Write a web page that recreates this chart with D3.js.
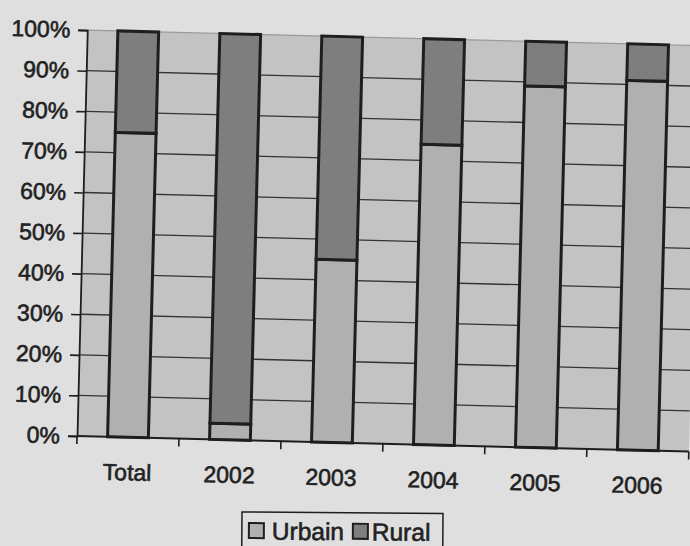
<!DOCTYPE html>
<html>
<head>
<meta charset="utf-8">
<script src="https://cdn.jsdelivr.net/npm/d3@7/dist/d3.min.js"></script>
<style>
  html, body { margin: 0; padding: 0; background: #dfdfdf; }
  svg { display: block; }
  text { font-family: "Liberation Sans", Arial, sans-serif; fill: #222; }
</style>
</head>
<body>
<svg id="chart" width="690" height="546"></svg>
<script>
// Share of urban vs rural, per year
const categories = ["Total", "2002", "2003", "2004", "2005", "2006"];
const urbain = [75, 4, 45, 74, 89, 91];
const rural  = [25, 96, 55, 26, 11, 9];
const seriesNames = ["Urbain", "Rural"];
const yTicks = [0, 10, 20, 30, 40, 50, 60, 70, 80, 90, 100];

const colors = { Urbain: "#b0b0b0", Rural: "#7e7e7e" };
const plotFill = "#c3c3c3";
const ink = "#1e1e1e";

const svg = d3.select("#chart");
const W = 612, H = 406;
const x0 = 77, y0 = 436;       // bottom-left corner of plot area
const tilt = 1.45;             // the sheet sits slightly askew

const rows = categories.map((c, i) => ({ cat: c, Urbain: urbain[i], Rural: rural[i] }));

const g = svg.append("g")
  .attr("transform", `rotate(${tilt}, ${x0}, ${y0}) translate(${x0}, ${y0 - H})`);

const x = d3.scaleBand().domain(categories).range([0, W]).paddingInner(0.6).paddingOuter(0.3);
const y = d3.scaleLinear().domain([0, 100]).range([H, 0]);

// plot area
g.append("rect").attr("x", 0).attr("y", 0).attr("width", W).attr("height", H).attr("fill", plotFill);

// gridlines
g.append("g").selectAll("line").data(yTicks.filter(t => t > 0)).join("line")
  .attr("x1", 0).attr("x2", W)
  .attr("y1", d => y(d)).attr("y2", d => y(d))
  .attr("stroke", d => d === 100 ? "#9a9a9a" : "#333")
  .attr("stroke-width", 1.3);

// stacked bars
const stack = d3.stack().keys(seriesNames)(rows);
g.append("g").selectAll("g").data(stack).join("g")
  .attr("fill", d => colors[d.key])
  .selectAll("rect").data(d => d).join("rect")
  .attr("x", d => x(d.data.cat))
  .attr("width", x.bandwidth())
  .attr("y", d => y(d[1]))
  .attr("height", d => y(d[0]) - y(d[1]))
  .attr("stroke", ink)
  .attr("stroke-width", 3)
  .attr("stroke-linejoin", "miter");

// y axis
const yAxis = g.append("g").call(
  d3.axisLeft(y).tickValues(yTicks).tickFormat(d => d + "%").tickSize(9).tickPadding(8)
);
yAxis.select(".domain").attr("stroke", ink).attr("stroke-width", 1.8);
yAxis.selectAll(".tick line").attr("stroke", ink).attr("stroke-width", 1.6);
yAxis.selectAll(".tick text")
  .attr("font-size", 23).attr("fill", "#222")
  .attr("stroke", "#222").attr("stroke-width", 0.6)
  .style("font-family", "'Liberation Sans', Arial, sans-serif");

// x axis, with tick marks between categories
const xAxisG = g.append("g").attr("transform", `translate(0, ${H})`);
xAxisG.append("line").attr("x1", 0).attr("x2", W).attr("stroke", ink).attr("stroke-width", 2);
const bounds = d3.range(categories.length + 1).map(i => i * x.step());
xAxisG.selectAll("line.tk").data(bounds).join("line").attr("class", "tk")
  .attr("x1", d => d).attr("x2", d => d).attr("y1", 0).attr("y2", 8)
  .attr("stroke", ink).attr("stroke-width", 1.6);
xAxisG.selectAll("text").data(categories).join("text")
  .attr("x", d => x(d) + x.bandwidth() / 2)
  .attr("y", 43)
  .attr("text-anchor", "middle")
  .attr("font-size", 23)
  .attr("stroke", "#222").attr("stroke-width", 0.6)
  .text(d => d);

// legend
const lg = svg.append("g").attr("transform", "translate(242, 512) rotate(0.4)");
lg.append("rect").attr("x", 0).attr("y", 0).attr("width", 201).attr("height", 50)
  .attr("fill", "#dfdfdf").attr("stroke", ink).attr("stroke-width", 1.5);
const items = [{ name: "Urbain", sx: 7, tx: 30 }, { name: "Rural", sx: 111, tx: 130 }];
items.forEach(it => {
  lg.append("rect").attr("x", it.sx).attr("y", 11).attr("width", 15).attr("height", 15)
    .attr("fill", colors[it.name]).attr("stroke", ink).attr("stroke-width", 2);
  lg.append("text").attr("x", it.tx).attr("y", 27.5).attr("font-size", 24.5)
    .attr("stroke", "#222").attr("stroke-width", 0.6).text(it.name);
});
</script>
</body>
</html>
